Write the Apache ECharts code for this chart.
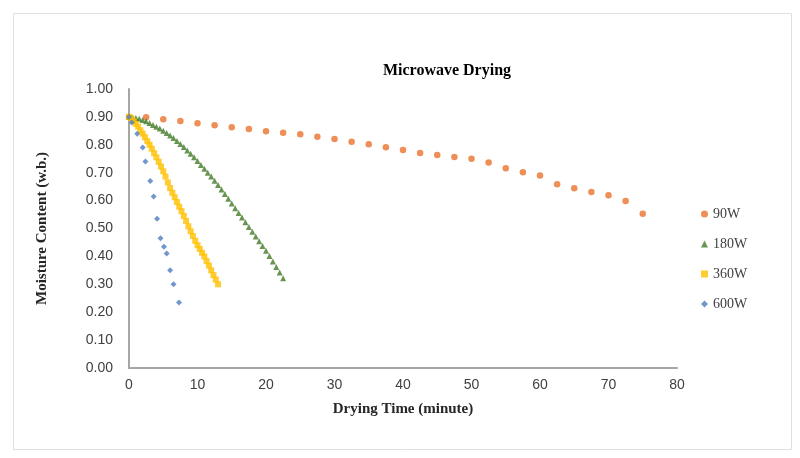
<!DOCTYPE html>
<html>
<head>
<meta charset="utf-8">
<script src="https://cdn.jsdelivr.net/npm/echarts@6/dist/echarts.min.js"></script>
<style>html,body{margin:0;padding:0;background:#fff;}#c{width:800px;height:458px;}</style>
</head>
<body>
<div id="c"></div>
<script>
// ---- data ----
const xTicks = [0, 10, 20, 30, 40, 50, 60, 70, 80];
const yTicks = ['0.00','0.10','0.20','0.30','0.40','0.50','0.60','0.70','0.80','0.90','1.00'];
const seriesNames = ['90W', '180W', '360W', '600W'];

const t90 = [0,2.5,5,7.5,10,12.5,15,17.5,20,22.5,25,27.5,30,32.5,35,37.5,40,42.5,45,47.5,50,52.5,55,57.5,60,62.5,65,67.5,70,72.5,75];
const v90 = [0.900,0.899,0.892,0.885,0.877,0.870,0.863,0.857,0.849,0.843,0.838,0.829,0.821,0.811,0.802,0.791,0.781,0.771,0.763,0.756,0.750,0.737,0.716,0.702,0.690,0.659,0.644,0.631,0.619,0.599,0.553];

const t180 = [0,0.5,1,1.5,2,2.5,3,3.5,4,4.5,5,5.5,6,6.5,7,7.5,8,8.5,9,9.5,10,10.5,11,11.5,12,12.5,13,13.5,14,14.5,15,15.5,16,16.5,17,17.5,18,18.5,19,19.5,20,20.5,21,21.5,22,22.5];
const v180 = [0.900,0.898,0.896,0.893,0.889,0.884,0.878,0.871,0.865,0.858,0.850,0.842,0.833,0.824,0.814,0.803,0.792,0.780,0.768,0.755,0.742,0.728,0.714,0.700,0.686,0.671,0.656,0.640,0.624,0.607,0.590,0.573,0.556,0.539,0.522,0.505,0.488,0.471,0.454,0.437,0.420,0.401,0.382,0.362,0.342,0.322];

const t360 = [0,0.33,0.67,1,1.33,1.67,2,2.33,2.67,3,3.33,3.67,4,4.33,4.67,5,5.33,5.67,6,6.33,6.67,7,7.33,7.67,8,8.33,8.67,9,9.33,9.67,10,10.33,10.67,11,11.33,11.67,12,12.33,12.67,13];
const v360 = [0.900,0.895,0.885,0.875,0.865,0.852,0.840,0.827,0.813,0.800,0.786,0.770,0.755,0.739,0.722,0.705,0.686,0.665,0.645,0.628,0.612,0.595,0.578,0.562,0.545,0.527,0.508,0.490,0.473,0.456,0.440,0.427,0.413,0.400,0.383,0.367,0.350,0.333,0.317,0.300];

const t600 = [0,0.4,1.2,2.0,2.4,3.1,3.6,4.1,4.6,5.1,5.5,6.0,6.5,7.3];
const v600 = [0.900,0.880,0.840,0.790,0.740,0.670,0.615,0.535,0.465,0.435,0.410,0.350,0.300,0.235];

function pairs(t, v) { return t.map((x, i) => [x, v[i]]); }

const chart = echarts.init(document.getElementById('c'), null, {renderer: 'canvas'});
const serif = '"Liberation Serif", "Times New Roman", serif';
const sans = '"Liberation Sans", Arial, sans-serif';

chart.setOption({
  backgroundColor: '#ffffff',
  animation: false,
  graphic: [{
    type: 'rect', left: 11, top: 11,
    shape: {width: 778, height: 436},
    style: {fill: 'none', stroke: '#e0e0e0', lineWidth: 1}
  }],
  title: {
    text: 'Microwave Drying',
    left: 442, top: 58, textAlign: 'center',
    textStyle: {fontFamily: serif, fontWeight: 'bold', fontSize: 16, color: '#000'}
  },
  legend: {
    orient: 'vertical', left: 696, top: 202, itemGap: 16,
    itemWidth: 7, itemHeight: 7,
    textStyle: {fontFamily: serif, fontSize: 14, color: '#404040'},
    data: seriesNames
  },
  grid: {left: 129, right: 123, top: 89, bottom: 90, containLabel: false},
  xAxis: {
    type: 'value', min: xTicks[0], max: xTicks[xTicks.length - 1], interval: 10,
    name: 'Drying Time (minute)', nameLocation: 'middle', nameGap: 34,
    nameTextStyle: {fontFamily: serif, fontWeight: 'bold', fontSize: 15, color: '#262626'},
    axisLine: {show: true, lineStyle: {color: '#a6a6a6', width: 2}},
    axisTick: {show: false},
    splitLine: {show: false},
    axisLabel: {fontFamily: sans, fontSize: 14, color: '#404040', margin: 10}
  },
  yAxis: {
    type: 'value', min: 0, max: 1, interval: 0.1,
    name: 'Moisture Content (w.b.)', nameLocation: 'middle', nameGap: 79, nameRotate: 90,
    nameTextStyle: {fontFamily: serif, fontWeight: 'bold', fontSize: 15, color: '#262626'},
    axisLine: {show: true, lineStyle: {color: '#a6a6a6', width: 2}},
    axisTick: {show: false},
    splitLine: {show: false},
    axisLabel: {fontFamily: sans, fontSize: 14, color: '#404040', margin: 16,
      formatter: v => yTicks[Math.round(v * 10)]}
  },
  series: [
    {name: seriesNames[0], type: 'scatter', symbol: 'circle', symbolSize: 6.5,
     itemStyle: {color: '#E8732C'}, data: pairs(t90, v90)},
    {name: seriesNames[1], type: 'scatter', symbol: 'triangle', symbolSize: 6,
     itemStyle: {color: '#437A28'}, data: pairs(t180, v180)},
    {name: seriesNames[2], type: 'scatter', symbol: 'rect', symbolSize: 6,
     itemStyle: {color: '#FFC000'}, data: pairs(t360, v360)},
    {name: seriesNames[3], type: 'scatter', symbol: 'diamond', symbolSize: 6,
     itemStyle: {color: '#4F7DC2'}, data: pairs(t600, v600)}
  ]
});
</script>
</body>
</html>
